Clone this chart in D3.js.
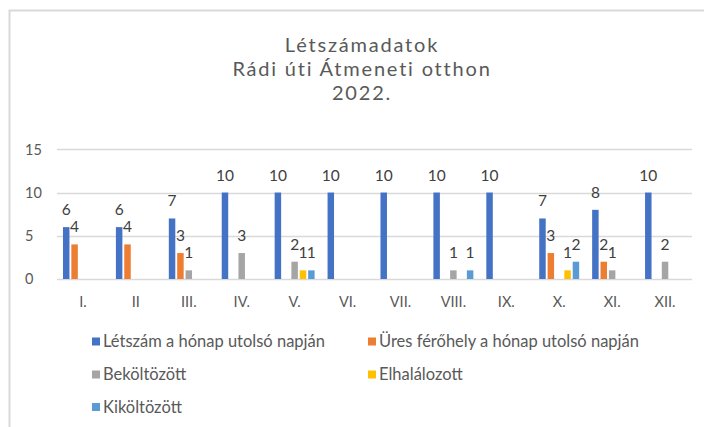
<!DOCTYPE html>
<html><head><meta charset="utf-8">
<script src="https://cdn.jsdelivr.net/npm/d3@7"></script>
<style>
html,body{margin:0;padding:0;background:#fff;}
svg{display:block;font-family:Lato,"Open Sans",sans-serif;}
</style></head>
<body>
<svg id="c" width="704" height="427"></svg>
<script>
const titleLines = ["Létszámadatok", "Rádi úti Átmeneti otthon", "2022."];
const months = ["I.","II","III.","IV.","V.","VI.","VII.","VIII.","IX.","X.","XI.","XII."];
const seriesNames = ["Létszám a hónap utolsó napján","Üres férőhely a hónap utolsó napján","Beköltözött","Elhalálozott","Kiköltözött"];
const seriesColors = ["#4472C4","#ED7D31","#A5A5A5","#FFC000","#5B9BD5"];
const letszam    = [6,6,7,10,10,10,10,10,10,7,8,10];
const ures       = [4,4,3,null,null,null,null,null,null,3,2,null];
const bekoltozott= [null,null,1,3,2,null,null,1,null,null,1,2];
const elhalalozott=[null,null,null,null,1,null,null,null,null,1,null,null];
const kikoltozott= [null,null,null,null,1,null,null,1,null,2,null,null];
const yTicks = [0,5,10,15];

const seriesValues = [letszam, ures, bekoltozott, elhalalozott, kikoltozott];

const svg = d3.select("#c");

// frame
svg.append("path").attr("d","M9.5,427 V10.5 H704").attr("fill","none")
  .attr("stroke","#d9d9d9").attr("stroke-width",2);

// title
const titleY = [52, 76, 100];
svg.append("g").selectAll("text").data(titleLines).join("text")
  .attr("x",362).attr("y",(d,i)=>titleY[i])
  .attr("text-anchor","middle").attr("fill","#595959")
  .style("font-size","20px").style("letter-spacing","1.8px")
  .text(d=>d);

const L = 56.5, R = 691.5;
const x0 = d3.scaleBand().domain(months).range([L,R]).paddingInner(0.245).paddingOuter(0.1225);
const x1 = d3.scaleBand().domain(d3.range(5)).range([0,x0.bandwidth()]).paddingInner(0.226);
const y = d3.scaleLinear().domain([0,15]).range([279,149.3]);

// gridlines
svg.append("g").selectAll("line").data(yTicks).join("line")
  .attr("x1",57).attr("x2",692)
  .attr("y1",d=>Math.round(y(d))+0.5).attr("y2",d=>Math.round(y(d))+0.5)
  .attr("stroke","#d9d9d9").attr("stroke-width",1.5);

// y labels
svg.append("g").selectAll("text").data(yTicks).join("text")
  .attr("x",25).attr("y",d=>y(d)).attr("dy","0.36em")
  .attr("fill","#595959").style("font-size","14.5px").text(d=>d);

// x labels
svg.append("g").selectAll("text").data(months).join("text")
  .attr("x",d=>x0(d)+x0.bandwidth()/2).attr("y",302).attr("dy","0.36em")
  .attr("text-anchor","middle").attr("fill","#595959").style("font-size","14.5px").text(d=>d);

// bars
const flat = [];
seriesValues.forEach((arr,s)=>arr.forEach((v,m)=>{ if(v!=null) flat.push({s,m,v}); }));
svg.append("g").selectAll("rect").data(flat).join("rect")
  .attr("x",d=>x0(months[d.m])+x1(d.s))
  .attr("width",x1.bandwidth())
  .attr("y",d=>y(d.v)).attr("height",d=>y(0)-y(d.v))
  .attr("fill",d=>seriesColors[d.s]);

// data labels
svg.append("g").selectAll("text").data(flat).join("text")
  .attr("x",d=>x0(months[d.m])+x1(d.s)+x1.bandwidth()/2)
  .attr("y",d=>y(d.v)-12)
  .attr("text-anchor","middle").attr("fill","#404040").style("font-size","15.5px")
  .text(d=>d.v);

// legend
const legPos = [[92,341.5],[368,341.5],[92,374.5],[368,374.5],[92,407]];
const leg = svg.append("g").selectAll("g").data(seriesNames).join("g")
  .attr("transform",(d,i)=>`translate(${legPos[i][0]},${legPos[i][1]})`);
leg.append("rect").attr("x",0).attr("y",-4).attr("width",8).attr("height",8)
  .attr("fill",(d,i)=>seriesColors[i]);
leg.append("text").attr("x",11).attr("y",0).attr("dy","0.36em")
  .attr("fill","#595959").style("font-size","16.5px").text(d=>d);
</script>
</body></html>
